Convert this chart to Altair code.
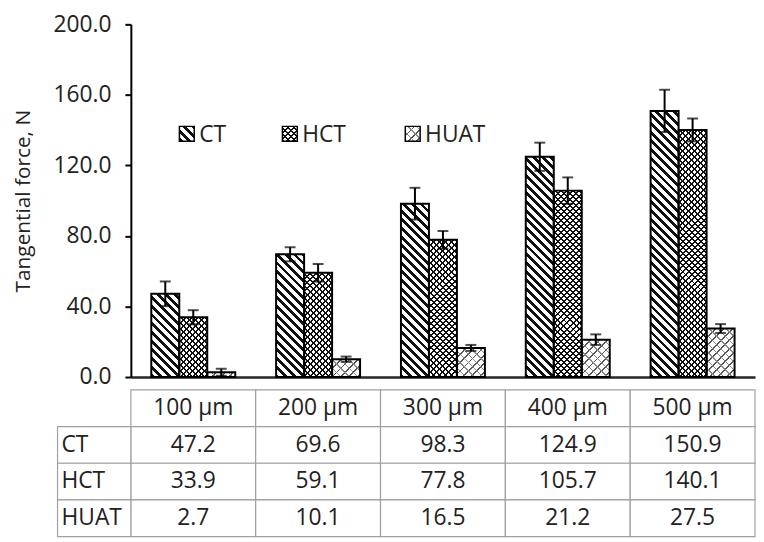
import math
import altair as alt
import pandas as pd

# ---- data ----
cats = ["100 µm", "200 µm", "300 µm", "400 µm", "500 µm"]
series = ["CT", "HCT", "HUAT"]
ct = [47.2, 69.6, 98.3, 124.9, 150.9]
hct = [33.9, 59.1, 77.8, 105.7, 140.1]
huat = [2.7, 10.1, 16.5, 21.2, 27.5]
ct_err = [7.0, 4.0, 9.0, 8.0, 12.0]
hct_err = [4.0, 5.0, 5.0, 7.5, 6.5]
huat_err = [2.0, 1.5, 1.7, 3.0, 2.5]
y_ticks = [0, 40, 80, 120, 160, 200]

values = {"CT": ct, "HCT": hct, "HUAT": huat}
errors = {"CT": ct_err, "HCT": hct_err, "HUAT": huat_err}

rows = []
for s in series:
    for i, c in enumerate(cats):
        v = values[s][i]
        e = errors[s][i]
        rows.append({"cat": c, "series": s, "value": v, "lo": v - e, "hi": v + e})
df = pd.DataFrame(rows)

# ---- layout ----
W, H = 630, 356
YMAX = 200
ROW_H = 37
FONT = "Open Sans"
FS = 23
PAD_OUT = 0.73
band = W / len(cats)
bar_w = band / (len(series) + 2 * PAD_OUT)


def stripes(w, h, period, frac, color, bg, direction):
    """Linear gradient that draws 45-degree stripes on a w x h box."""
    t = (w + h) / (w * w + h * h)
    if direction == "back":  # "\" lines
        x1, y1, x2, y2 = 0, 1, t * w, 1 - t * h
    else:  # "/" lines
        x1, y1, x2, y2 = 0, 0, t * w, t * h
    n = (w + h) / (math.sqrt(2) * period)
    stops = []
    k = 0
    while k < n:
        a = min(k / n, 1.0)
        b = min((k + frac) / n, 1.0)
        c = min((k + 1) / n, 1.0)
        stops += [
            {"offset": a, "color": color},
            {"offset": b, "color": color},
            {"offset": b, "color": bg},
            {"offset": c, "color": bg},
        ]
        k += 1
    return {"gradient": "linear", "x1": x1, "y1": y1, "x2": x2, "y2": y2, "stops": stops}


CLEAR = "rgba(255,255,255,0)"


def fills(s, w, h):
    if s == "CT":
        return [stripes(w, h, 6.2, 0.45, "#111111", "white", "back")]
    if s == "HCT":
        return [
            stripes(w, h, 4.3, 0.33, "#111111", "white", "back"),
            stripes(w, h, 4.3, 0.33, "#111111", CLEAR, "fwd"),
        ]
    return [
        stripes(w, h, 6.0, 0.22, "#555555", "white", "fwd"),
        stripes(w, h, 6.0, 0.16, "#8a8a8a", CLEAR, "back"),
    ]


x_enc = alt.X(
    "cat:N",
    sort=cats,
    scale=alt.Scale(domain=cats, paddingInner=0, paddingOuter=0),
    axis=alt.Axis(labels=False, ticks=False, title=None, domainColor="#262626",
                  domainWidth=2.5),
)
xo_enc = alt.XOffset(
    "series:N",
    sort=series,
    scale=alt.Scale(domain=series, paddingInner=0, paddingOuter=PAD_OUT),
)
y_axis = alt.Axis(
    values=y_ticks, format=".1f", grid=False, domainColor="black", domainWidth=2,
    tickColor="black", tickWidth=2, tickSize=6, labelFontSize=FS, labelPadding=14,
    labelColor="#222222", title="Tangential force, N", titleFontSize=21,
    titleFontWeight="normal", titleColor="#222222", titlePadding=20,
)
y_scale = alt.Scale(domain=[0, YMAX], nice=False, zero=True)


def Y(field):
    return alt.Y(field, type="quantitative", scale=y_scale, axis=y_axis)


base = alt.Chart()
layers = []
for s in series:
    for i, c in enumerate(cats):
        v = values[s][i]
        h = v * H / YMAX
        filt = f"datum.series == '{s}' && datum.cat == '{c}'"
        for g in fills(s, bar_w, h):
            layers.append(
                base.mark_bar(fill=g, strokeWidth=0)
                .encode(x=x_enc, xOffset=xo_enc, y=Y("value"))
                .transform_filter(filt)
            )

# outlines
layers.append(
    base.mark_bar(fillOpacity=0, stroke="black", strokeWidth=2)
    .encode(x=x_enc, xOffset=xo_enc, y=Y("value"))
)
# error bars
layers.append(
    base.mark_rule(color="black", strokeWidth=2)
    .encode(x=x_enc, xOffset=xo_enc, y=Y("lo"), y2="hi:Q")
)
for fld in ["lo", "hi"]:
    layers.append(
        base.mark_tick(color="black", thickness=2, size=11)
        .encode(x=x_enc, xOffset=xo_enc, y=Y(fld))
    )

# legend (inside plot)
leg_pos = {"CT": 49, "HCT": 153, "HUAT": 277}
SYM = 15
LEG_Y = 103
for s in series:
    filt = f"datum.series == '{s}' && datum.cat == '{cats[0]}'"
    x0 = leg_pos[s]
    for g in fills(s, SYM, SYM):
        layers.append(
            base.mark_rect(fill=g, strokeWidth=0)
            .encode(x=alt.value(x0), x2=alt.value(x0 + SYM),
                    y=alt.value(LEG_Y), y2=alt.value(LEG_Y + SYM))
            .transform_filter(filt)
        )
    layers.append(
        base.mark_rect(fillOpacity=0, stroke="black", strokeWidth=1.5)
        .encode(x=alt.value(x0), x2=alt.value(x0 + SYM),
                y=alt.value(LEG_Y), y2=alt.value(LEG_Y + SYM))
        .transform_filter(filt)
    )
    layers.append(
        base.mark_text(align="left", baseline="middle", fontSize=FS, color="#222222")
        .encode(x=alt.value(x0 + SYM + 5), y=alt.value(LEG_Y + SYM / 2 + 1),
                text="series:N")
        .transform_filter(filt)
    )

top = alt.layer(*layers, data=df).properties(width=W, height=H)

# ---- data table under the chart ----
row_order = ["hdr"] + series
trows = []
for i, c in enumerate(cats):
    trows.append({"cat": c, "row": "hdr", "txt": c})
    for s in series:
        trows.append({"cat": c, "row": s, "txt": f"{values[s][i]:.1f}"})
tdf = pd.DataFrame(trows)
ldf = pd.DataFrame({"row": series})

tx = alt.X("cat:N", sort=cats, scale=alt.Scale(domain=cats, paddingInner=0, paddingOuter=0),
           axis=None)
ty = alt.Y("row:N", sort=row_order,
           scale=alt.Scale(domain=row_order, paddingInner=0, paddingOuter=0), axis=None)
GRID = "#a0a0a0"
cells = alt.Chart(tdf).mark_rect(fill="white", stroke=GRID, strokeWidth=1.2).encode(x=tx, y=ty)
cell_txt = alt.Chart(tdf).mark_text(fontSize=FS, color="#222222").encode(x=tx, y=ty, text="txt:N")
left_cells = alt.Chart(ldf).mark_rect(fill="white", stroke=GRID, strokeWidth=1.2).encode(
    x=alt.value(-74), x2=alt.value(0), y=ty)
left_txt = alt.Chart(ldf).mark_text(align="left", fontSize=FS, color="#222222").encode(
    x=alt.value(-70), y=ty, text="row:N")
table = alt.layer(cells, cell_txt, left_cells, left_txt).properties(
    width=W, height=ROW_H * len(row_order))

chart = (
    alt.vconcat(top, table, spacing=0)
    .properties(padding={"left": 4, "top": 3, "right": 0, "bottom": 0})
    .configure(font=FONT)
    .configure_view(stroke=None)
)

chart.save("out.html", embed_options={"renderer": "svg", "actions": False})
